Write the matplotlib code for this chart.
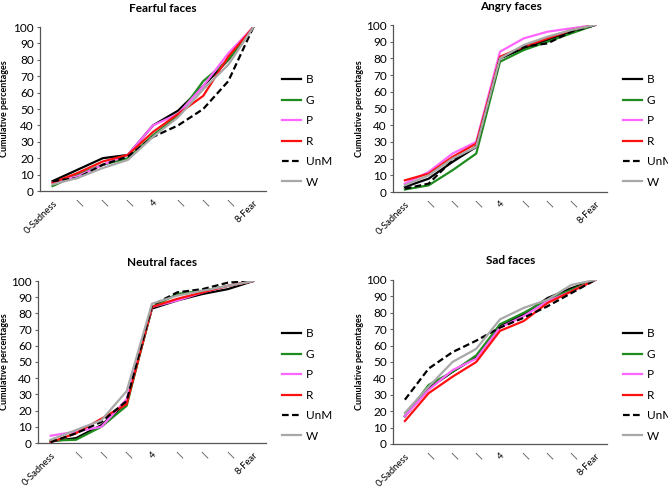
import matplotlib

matplotlib.use("Agg")
import matplotlib.pyplot as plt

plt.rcParams["font.family"] = ["Lato", "DejaVu Sans"]

categories = ["0-Sadness", "|", "|", "|", "4", "|", "|", "|", "8-Fear"]
groups = ["B", "G", "P", "R", "UnM", "W"]

fearful = {
    "B": [6, 13, 20, 22, 40, 49, 64, 80, 100],
    "G": [3, 10, 16, 20, 34, 46, 67, 80, 100],
    "P": [5, 9, 16, 22, 40, 47, 64, 84, 100],
    "R": [5, 11, 18, 22, 36, 47, 58, 82, 100],
    "UnM": [6, 8, 16, 21, 33, 40, 50, 67, 100],
    "W": [4, 8, 14, 19, 33, 45, 62, 77, 100],
}
angry = {
    "B": [3, 8, 18, 27, 80, 86, 91, 96, 100],
    "G": [1.5, 4, 13, 23, 78, 85, 90, 95, 100],
    "P": [5, 12, 23, 30, 84, 92, 96, 98, 100],
    "R": [7, 11, 21, 29, 81, 87, 92, 97, 100],
    "UnM": [2, 5, 19, 27, 80, 87, 89, 96, 100],
    "W": [4, 10, 20, 27, 80, 88, 93, 97, 100],
}
neutral = {
    "B": [1, 3, 11, 25, 83, 88, 92, 95, 100],
    "G": [1.5, 2, 10, 23, 84, 92, 94, 97, 100],
    "P": [4.5, 7, 10, 27, 84, 88, 93, 97, 100],
    "R": [0.5, 6, 15, 24, 84, 89, 93, 97, 100],
    "UnM": [0.5, 6, 13, 26, 85, 93, 95, 99, 100],
    "W": [2, 8, 14, 32, 86, 91, 94, 97, 100],
}
sad = {
    "B": [17, 34, 44, 53, 72, 79, 89, 95, 100],
    "G": [17, 36, 44, 54, 73, 80, 88, 94, 100],
    "P": [17, 33, 45, 52, 71, 78, 87, 93, 100],
    "R": [14, 31, 41, 50, 69, 75, 86, 93, 100],
    "UnM": [27, 46, 56, 63, 71, 77, 84, 92, 100],
    "W": [19, 35, 50, 58, 76, 83, 88, 97, 100],
}

styles = {
    "B": dict(color="black", linestyle="-"),
    "G": dict(color="#1e8c1e", linestyle="-"),
    "P": dict(color="#ff66ff", linestyle="-"),
    "R": dict(color="#ff1010", linestyle="-"),
    "UnM": dict(color="black", linestyle=(0, (3, 1.5))),
    "W": dict(color="#a8a8a8", linestyle="-"),
}

W, H = 668, 487
# title, data, axes box in px (left, top, right, bottom), title pos, ylabel x, legend pos
panels = [
    ("Fearful faces", fearful, (40, 27, 266, 191), (163, 8), 5, (282, 131)),
    ("Angry faces", angry, (393, 25, 607, 192), (511, 7), 360, (623, 131)),
    ("Neutral faces", neutral, (38, 281, 266, 443), (162, 262), 5, (282, 385)),
    ("Sad faces", sad, (393, 280, 607, 444), (511, 261), 360, (623, 385)),
]

fig = plt.figure(figsize=(W / 100, H / 100), dpi=100)
for title, data, box, tpos, ylx, lpos in panels:
    l, t, r, b = box
    ax = fig.add_axes([l / W, 1 - b / H, (r - l) / W, (b - t) / H])
    x = list(range(len(categories)))
    for g in groups:
        ax.plot(x, data[g], linewidth=1.6, label=g, **styles[g])
    ax.set_ylim(0, 100)
    ax.set_xlim(-0.5, 8.5)
    ax.set_yticks(range(0, 101, 10))
    ax.set_xticks(x)
    ax.set_xticklabels(categories, rotation=45, ha="right", rotation_mode="anchor")
    ax.tick_params(axis="x", length=0, pad=5.5, labelsize=6.8)
    ax.tick_params(axis="y", length=2.5, pad=2, labelsize=8.5, color="#666666")
    for s in ("top", "right"):
        ax.spines[s].set_visible(False)
    for s in ("left", "bottom"):
        ax.spines[s].set_color("#555555")
        ax.spines[s].set_linewidth(0.9)
    fig.text(tpos[0] / W, 1 - tpos[1] / H, title, ha="center", va="center",
             fontsize=8.5, fontweight="bold")
    fig.text(ylx / W, 1 - ((t + b) / 2) / H, "Cumulative percentages", rotation=90,
             ha="center", va="center", fontsize=6.5, fontweight="bold")
    ax.legend(loc="center left", bbox_to_anchor=(lpos[0] / W, 1 - lpos[1] / H),
              bbox_transform=fig.transFigure, frameon=False, fontsize=8.5,
              handlelength=1.6, handletextpad=0.4, labelspacing=0.8,
              borderaxespad=0, borderpad=0)

fig.savefig("out.png", dpi=100)
